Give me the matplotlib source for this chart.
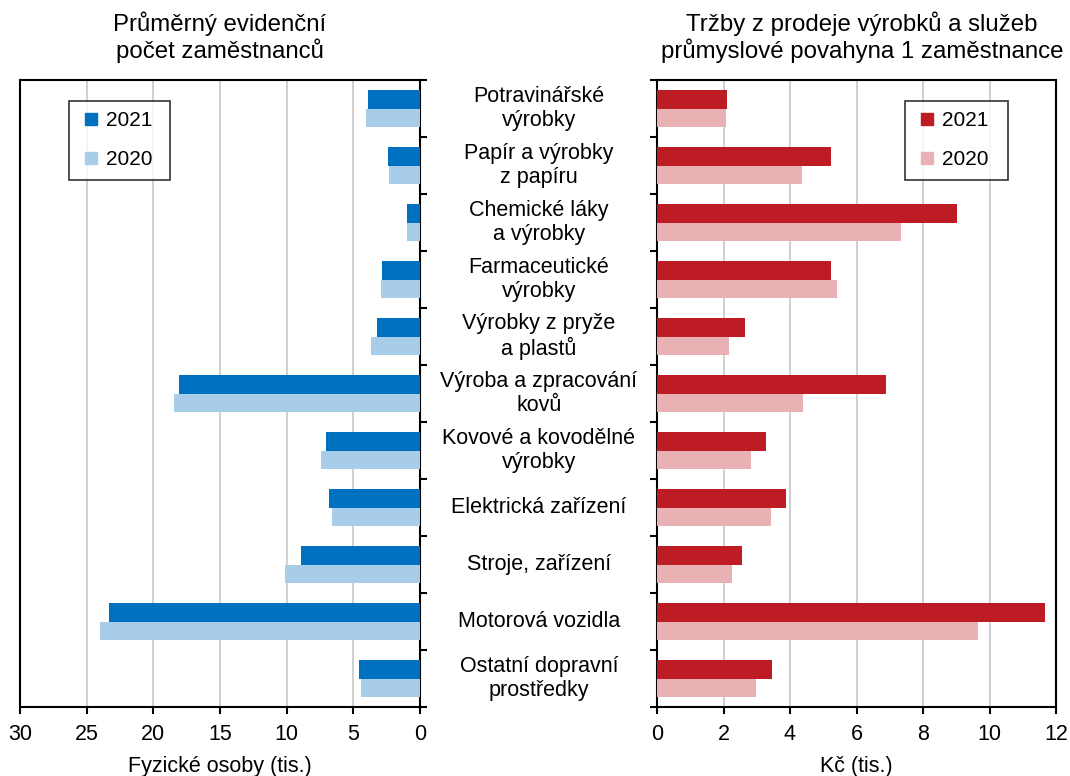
import numpy as np
import matplotlib
matplotlib.use("Agg")
import matplotlib.pyplot as plt
import matplotlib.transforms as mtransforms
from matplotlib.lines import Line2D

plt.rcParams['font.family'] = ['Liberation Sans', 'DejaVu Sans']

categories = ["Potravinářské\nvýrobky", "Papír a výrobky\nz papíru", "Chemické láky\na výrobky",
              "Farmaceutické\nvýrobky", "Výrobky z pryže\na plastů", "Výroba a zpracování\nkovů",
              "Kovové a kovodělné\nvýrobky", "Elektrická zařízení", "Stroje, zařízení",
              "Motorová vozidla", "Ostatní dopravní\nprostředky"]

# zaměstnanci (tis.)
emp_2021 = [3.87, 2.37, 0.97, 2.87, 3.2, 18.05, 7.08, 6.86, 8.95, 23.29, 4.61]
emp_2020 = [4.07, 2.36, 0.95, 2.9, 3.64, 18.43, 7.4, 6.63, 10.15, 23.99, 4.39]

# tržby na 1 zaměstnance (tis. Kč)
rev_2021 = [2.1, 5.22, 9.03, 5.23, 2.64, 6.89, 3.27, 3.89, 2.57, 11.68, 3.47]
rev_2020 = [2.07, 4.36, 7.35, 5.41, 2.18, 4.38, 2.82, 3.42, 2.25, 9.65, 2.97]

years = ["2021", "2020"]

blue_dark = '#0070C0'
blue_light = '#A7CDE8'
red_dark = '#BE1C24'
red_light = '#E8B1B4'

fs = 15.5

fig = plt.figure(figsize=(10.7, 7.76), dpi=100)
ax1 = fig.add_axes([20/1070, 1-707/776, 400/1070, 627/776])
ax2 = fig.add_axes([657/1070, 1-707/776, 399/1070, 627/776])

n = len(categories)
y = np.arange(n)
h = 0.333

for ax, d21, d20, c1, c2, lx, lw in [(ax1, emp_2021, emp_2020, blue_dark, blue_light, 0.1225, 0.2525),
                                      (ax2, rev_2021, rev_2020, red_dark, red_light, 0.6216, 0.258)]:
    ax.barh(y - h/2, d21, height=h, color=c1, zorder=3)
    ax.barh(y + h/2, d20, height=h, color=c2, zorder=3)
    ax.set_ylim(n - 0.5, -0.5)
    ax.set_yticks(np.arange(n + 1) - 0.5)
    ax.set_yticklabels([])
    ax.tick_params(axis='y', length=5, width=1.5, direction='out')
    ax.tick_params(axis='x', length=5, width=1.5, labelsize=fs, pad=7)
    ax.grid(axis='x', color='#C8C8C8', linewidth=1.2, zorder=0)
    for s in ax.spines.values():
        s.set_linewidth(1.5)
    handles = [Line2D([], [], ls='none', marker='s', markersize=8, color=c) for c in (c1, c2)]
    leg = ax.legend(handles, years, loc='upper left', bbox_to_anchor=(lx, 0.9665, lw, 0),
                    mode='expand', fontsize=15, frameon=True, fancybox=False,
                    edgecolor='black', handlelength=1.07, labelspacing=0.95,
                    borderpad=0.5, handletextpad=0.21, borderaxespad=0)
    leg.get_frame().set_linewidth(1.2)

ax1.set_xlim(30, 0)
ax1.set_xticks(np.arange(0, 31, 5))
ax1.yaxis.tick_right()
ax1.set_xlabel("Fyzické osoby (tis.)", fontsize=fs, labelpad=8)

ax2.set_xlim(0, 12)
ax2.set_xticks(np.arange(0, 13, 2))
ax2.set_xlabel("Kč (tis.)", fontsize=fs, labelpad=8)

trans = mtransforms.blended_transform_factory(fig.transFigure, ax1.transData)
for i, cat in enumerate(categories):
    ax1.text(539/1070, y[i], cat, transform=trans, ha='center', va='center',
             fontsize=fs, linespacing=1.2, clip_on=False)

fig.text(220/1070, 1-37/776, "Průměrný evidenční\npočet zaměstnanců", ha='center', va='center',
         fontsize=17.3, linespacing=1.12)
fig.text(862/1070, 1-37/776, "Tržby z prodeje výrobků a služeb\nprůmyslové povahyna 1 zaměstnance",
         ha='center', va='center', fontsize=17.3, linespacing=1.12)

fig.savefig("out.png", dpi=100)
